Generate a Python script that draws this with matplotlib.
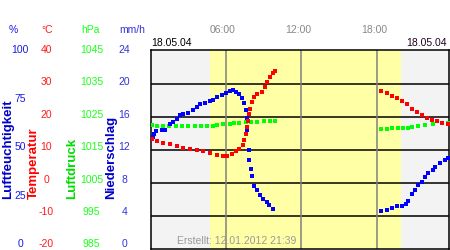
import numpy as np
import matplotlib.pyplot as plt
from matplotlib.patches import Rectangle

plt.rcParams['font.family'] = ['Liberation Sans', 'DejaVu Sans']

# humidity (%) - morning and evening parts
hum_t1 = [0.17, 0.28, 0.44, 0.89, 1.15, 1.55, 1.81, 2.08, 2.34, 2.61, 3.0, 3.35, 3.67,
          3.93, 4.33, 4.73, 4.99, 5.26, 5.66, 6.0, 6.32, 6.58, 6.8, 7.06, 7.25, 7.46,
          7.57, 7.64, 7.7, 7.8, 7.85, 7.97, 8.07, 8.23, 8.49, 8.7, 8.97, 9.24, 9.44, 9.76]
hum_v1 = [56.4, 58.1, 59.4, 59.8, 60.2, 63.2, 64.0, 65.7, 67.7, 68.2, 68.7, 69.9, 71.5,
          72.9, 73.5, 74.5, 75.2, 76.5, 77.7, 78.5, 79.5, 79.9, 79.2, 77.9, 76.2, 73.5,
          69.8, 66.0, 60.0, 50.0, 44.7, 40.6, 36.7, 31.7, 29.6, 27.1, 25.5, 23.8, 22.1, 20.5]
hum_t2 = [18.32, 18.78, 19.17, 19.57, 19.97, 20.29, 20.49, 20.81, 21.03, 21.24, 21.56,
          21.82, 22.08, 22.48, 22.62, 23.01, 23.41, 23.62]
hum_v2 = [19.2, 20.0, 20.8, 21.6, 21.6, 23.0, 24.3, 27.6, 29.6, 32.2, 33.8, 36.3, 38.3,
          39.7, 41.4, 43.6, 44.7, 45.9]

# temperature (°C)
temp_t1 = [0.1, 0.49, 1.02, 1.55, 2.08, 2.61, 3.14, 3.67, 4.2, 4.73, 5.26, 5.79, 6.1,
           6.45, 6.8, 7.06, 7.33, 7.46, 7.57, 7.65, 7.73, 7.81, 7.91, 8.04, 8.23, 8.49,
           8.84, 9.1, 9.28, 9.5, 9.71, 9.9]
temp_v1 = [13.4, 12.6, 12.1, 11.7, 11.2, 10.7, 10.4, 10.1, 9.6, 9.2, 8.6, 8.3, 8.3,
           8.9, 9.6, 10.4, 11.4, 13.1, 14.7, 16.9, 18.7, 20.9, 22.4, 24.4, 25.9, 26.9,
           27.4, 28.9, 30.4, 32.0, 33.2, 33.8]
temp_t2 = [18.32, 18.78, 19.17, 19.57, 19.97, 20.37, 20.76, 21.16, 21.56, 21.96, 22.35,
           22.75, 23.15, 23.67]
temp_v2 = [27.9, 27.1, 26.4, 25.7, 24.7, 23.7, 22.4, 21.4, 20.4, 19.7, 19.1, 18.6, 18.1, 17.9]

# air pressure (hPa)
pres_t1 = [0.1, 0.49, 1.0, 1.5, 2.0, 2.5, 3.0, 3.5, 4.0, 4.5, 5.0, 5.26, 5.8, 6.3, 6.6,
           7.0, 7.6, 8.0, 8.5, 9.0, 9.5, 9.9]
pres_v1 = [1022.6, 1022.2, 1022.1, 1022.1, 1022.1, 1022.1, 1022.1, 1022.1, 1022.1, 1022.2,
           1022.3, 1022.6, 1022.7, 1022.9, 1023.0, 1023.1, 1023.3, 1023.4, 1023.5, 1023.6,
           1023.6, 1023.6]
pres_t2 = [18.32, 18.78, 19.2, 19.7, 20.1, 20.49, 20.76, 21.29, 21.82, 22.48, 23.15, 23.67]
pres_v2 = [1021.4, 1021.4, 1021.5, 1021.6, 1021.6, 1021.6, 1021.9, 1022.2, 1022.6, 1022.9,
           1023.1, 1023.2]

hum_ticks = ['100', '75', '50', '25', '0']
temp_ticks = ['40', '30', '20', '10', '0', '-10', '-20']
pres_ticks = ['1045', '1035', '1025', '1015', '1005', '995', '985']
prec_ticks = ['24', '20', '16', '12', '8', '4', '0']
hour_ticks = [6, 12, 18]
hour_labels = ['06:00', '12:00', '18:00']
day_start, day_end = 4.73, 19.91
date_label = '18.05.04'

W, H = 450, 250
fig = plt.figure(figsize=(4.5, 2.5), dpi=100)
ax = fig.add_axes([150.5 / W, 0.6 / H, 298.5 / W, 199 / H])
ax.set_xlim(0, 23.73)
ax.set_ylim(-20, 40)
ax.set_facecolor('#f3f3f3')
ax.axvspan(day_start, day_end, color='#ffffa6', lw=0, zorder=0)
for t in [-10, 0, 10, 20, 30]:
    ax.axhline(t, color='black', lw=1.1, zorder=1)
for h in hour_ticks:
    ax.axvline(h, color='#808080', lw=1.1, zorder=1)
ax.set_xticks([])
ax.set_yticks([])
for s in ax.spines.values():
    s.set_linewidth(1.1)

axp = ax.twinx()
axp.set_ylim(985, 1045)
axh = ax.twinx()
axh.set_ylim(0, 100)
axt = ax.twinx()
axt.set_ylim(-20, 40)
for a in (axp, axh, axt):
    a.set_yticks([])
    a.set_xlim(0, 23.73)
    for s in a.spines.values():
        s.set_visible(False)

mk = dict(marker='s', ms=3.0, mew=0, ls='none')
axp.plot(pres_t1, pres_v1, color='#00ff00', **mk)
axp.plot(pres_t2, pres_v2, color='#00ff00', **mk)
axh.plot(hum_t1, hum_v1, color='#0000ff', **mk)
axh.plot(hum_t2, hum_v2, color='#0000ff', **mk)
axt.plot(temp_t1, temp_v1, color='#ff0000', **mk)
axt.plot(temp_t2, temp_v2, color='#ff0000', **mk)

fs = 7.5
def px(x, y, s, **kw):
    fig.text(x / W, 1 - y / H, s, ha='center', va='center', fontsize=fs, **kw)

c_hum, c_temp, c_pres, c_prec = '#1a1ae6', '#ff1a1a', '#1aff1a', '#3333dd'
px(13.3, 30, '%', color=c_hum)
px(46.7, 30, '°C', color=c_temp)
px(90, 30, 'hPa', color=c_pres)
px(132.5, 30, 'mm/h', color=c_prec)
for i, s in enumerate(hum_ticks):
    px(20, 50 + i * 48.6, s, color=c_hum)
for i in range(7):
    y = 50 + i * 32.38
    px(46.5, y, temp_ticks[i], color=c_temp)
    px(91.5, y, pres_ticks[i], color=c_pres)
    px(124.5, y, prec_ticks[i], color=c_prec)

names = [(7.8, 'Luftfeuchtigkeit', '#0000cc'), (34, 'Temperatur', '#ff0000'),
         (71.7, 'Luftdruck', '#00dd00'), (111, 'Niederschlag', '#0000cc')]
for x, s, c in names:
    fig.text(x / W, 1 - 199 / H, s, rotation=90, ha='center', va='bottom',
             fontsize=9.5, fontweight='bold', color=c)

for h, s in zip(hour_ticks, hour_labels):
    fig.text((150.5 + h * 12.58 - 3) / W, 1 - 30 / H, s, ha='center', va='center',
             fontsize=fs, color='#888888')
px(171, 43.3, date_label, color='black')
px(426, 43.3, date_label, color='#200020')
fig.text(296.7 / W, 1 - 241 / H, 'Erstellt: 12.01.2012 21:39', ha='right', va='center',
         fontsize=fs, color='#999999')

fig.savefig('out.png', dpi=100)
